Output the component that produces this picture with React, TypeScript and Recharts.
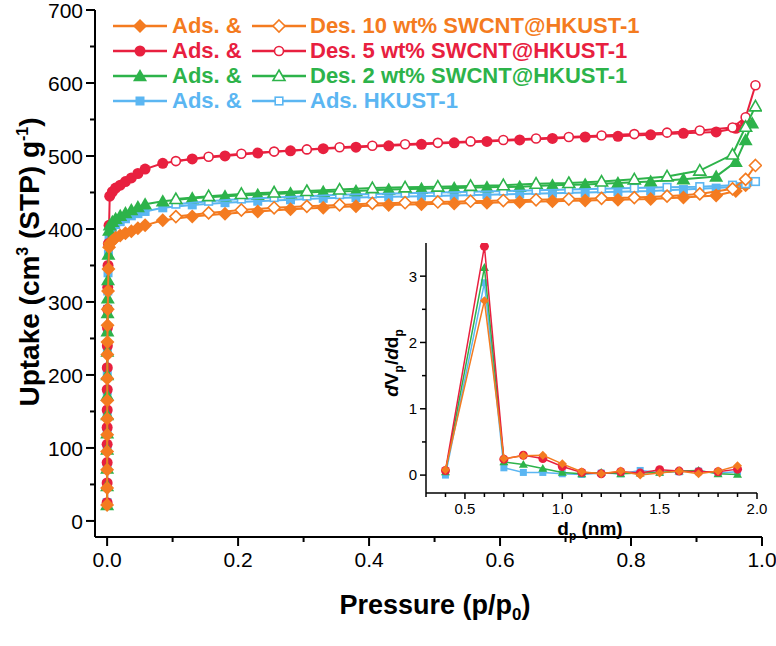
import React from "react";
import { ComposedChart, Scatter, XAxis, YAxis, Legend } from "recharts";

const ORANGE = "#F47B20";
const RED = "#E8203F";
const GREEN = "#2DB34A";
const BLUE = "#5BB6F2";
const FONT = "'Liberation Sans', Arial, sans-serif";

// ---- main isotherm (p/p0 vs uptake) ----
// shared pressure steps
const stackP = [0.00001, 0.00002, 0.00004, 0.00006, 0.00009, 0.00013, 0.00018, 0.00025, 0.00035, 0.0005, 0.0007, 0.001, 0.0014, 0.002, 0.003];
const kneeP = [0.004, 0.008, 0.013, 0.02, 0.028, 0.037, 0.047, 0.058];
const plateauP = [0.085, 0.13, 0.18, 0.23, 0.28, 0.33, 0.38, 0.43, 0.48, 0.53, 0.58, 0.63, 0.68, 0.73, 0.78, 0.83, 0.88, 0.93];
const tailP = [0.96, 0.975];
const greenTailP = [0.96, 0.975, 0.985];
const desP = [0.99, 0.975, 0.955, 0.905, 0.855, 0.805, 0.755, 0.705, 0.655, 0.605, 0.555, 0.505, 0.455, 0.405, 0.355, 0.305, 0.255, 0.205, 0.155, 0.105];

// 10 wt% SWCNT@HKUST-1
const ads10 = [22, 45, 70, 95, 118, 140, 165, 195, 228, 245, 268, 290, 315, 345, 375,
  380, 384, 388, 391, 394, 397, 401, 405,
  412, 417, 421, 424, 427, 429, 431, 433, 434, 435, 436, 437, 438, 439, 440, 441, 443, 446,
  452, 460];
const des10 = [487, 468, 455, 448, 445, 443, 442, 441, 440, 439, 438, 437, 436, 435, 433, 431, 429, 426, 422, 417];

// 5 wt% SWCNT@HKUST-1
const ads5 = [25, 52, 80, 105, 128, 152, 180, 210, 240, 265, 290, 320, 350, 380, 405,
  445, 451, 456, 460, 465, 470, 476, 482,
  490, 496, 500, 504, 507, 510, 512, 514, 516, 518, 520, 522, 524, 526, 527, 529, 531, 533,
  538, 545];
const des5 = [597, 553, 539, 535, 532, 530, 528, 526, 524, 522, 520, 518, 516, 514, 512, 509, 506, 503, 499, 493];

// 2 wt% SWCNT@HKUST-1
const ads2 = [22, 48, 72, 98, 120, 145, 172, 200, 232, 260, 285, 305, 330, 365, 398,
  405, 410, 414, 418, 422, 426, 430, 434,
  438, 442, 445, 447, 449, 451, 452, 454, 455, 456, 457, 458, 460, 461, 463, 465, 468, 472,
  492, 522, 545];
const des2 = [568, 540, 502, 480, 472, 468, 465, 463, 462, 460, 459, 458, 457, 456, 454, 452, 450, 448, 445, 441];

// HKUST-1
const adsH = [25, 50, 75, 100, 122, 148, 178, 205, 235, 262, 290, 315, 340, 365, 390,
  398, 402, 406, 410, 414, 418, 421, 424,
  429, 433, 436, 438, 440, 442, 443, 444, 445, 446, 447, 448, 449, 450, 451, 452, 454, 456,
  458, 461];
const desH = [465, 462, 460, 458, 457, 456, 455, 454, 453, 452, 451, 450, 449, 448, 447, 445, 443, 441, 438, 434];

const mainXTicks = [0, 0.1, 0.2, 0.3, 0.4, 0.5, 0.6, 0.7, 0.8, 0.9, 1.0];
const mainYTicks = [0, 50, 100, 150, 200, 250, 300, 350, 400, 450, 500, 550, 600, 650, 700];

// ---- inset: pore size distribution ----
const poreD = [0.4, 0.6, 0.7, 0.8, 0.9, 1.0, 1.1, 1.2, 1.3, 1.4, 1.5, 1.6, 1.7, 1.8, 1.9];
const psd10 = [0.08, 2.63, 0.25, 0.29, 0.3, 0.17, 0.05, 0.02, 0.06, 0.0, 0.03, 0.06, 0.02, 0.06, 0.14];
const psd5 = [0.07, 3.45, 0.24, 0.3, 0.25, 0.13, 0.04, 0.02, 0.05, 0.03, 0.08, 0.06, 0.05, 0.05, 0.09];
const psd2 = [0.05, 3.13, 0.2, 0.16, 0.1, 0.04, 0.02, 0.04, 0.02, 0.03, 0.04, 0.06, 0.07, 0.02, 0.01];
const psdH = [0.0, 2.9, 0.11, 0.04, 0.04, 0.02, 0.01, 0.03, 0.02, 0.07, 0.04, 0.05, 0.06, 0.03, 0.05];

const insetXTicks = [0.3, 0.4, 0.5, 0.6, 0.7, 0.8, 0.9, 1.0, 1.1, 1.2, 1.3, 1.4, 1.5, 1.6, 1.7, 1.8, 1.9, 2.0];
const insetYTicks = [0, 0.5, 1, 1.5, 2, 2.5, 3];

const legendAds = ["Ads. &", "Ads. &", "Ads. &", "Ads. &"];
const legendDes = ["Des. 10 wt% SWCNT@HKUST-1", "Des. 5 wt% SWCNT@HKUST-1", "Des. 2 wt% SWCNT@HKUST-1", "Ads. HKUST-1"];

const zip = (xs: number[], ys: number[]) => ys.map((v, i) => ({ p: xs[i], v }));

const ads10Data = zip([...stackP, ...kneeP, ...plateauP, ...tailP], ads10);
const ads5Data = zip([...stackP, ...kneeP, ...plateauP, ...tailP], ads5);
const ads2Data = zip([...stackP, ...kneeP, ...plateauP, ...greenTailP], ads2);
const adsHData = zip([...stackP, ...kneeP, ...plateauP, ...tailP], adsH);

type Kind = "diamond" | "circle" | "triangle" | "square";

const Mark = ({ kind, color, open, r, cx, cy }: any) => {
  if (cx == null || cy == null) return null;
  const fill = open ? "#fff" : color;
  const sw = open ? 1.6 : 0;
  if (kind === "circle") return <circle cx={cx} cy={cy} r={r} fill={fill} stroke={color} strokeWidth={sw} />;
  if (kind === "square") return <rect x={cx - r} y={cy - r} width={2 * r} height={2 * r} fill={fill} stroke={color} strokeWidth={sw} />;
  if (kind === "diamond")
    return <polygon points={`${cx},${cy - r} ${cx + r},${cy} ${cx},${cy + r} ${cx - r},${cy}`} fill={fill} stroke={color} strokeWidth={sw} />;
  return <polygon points={`${cx},${cy - r} ${cx + r},${cy + r * 0.75} ${cx - r},${cy + r * 0.75}`} fill={fill} stroke={color} strokeWidth={sw} />;
};

const shape = (kind: Kind, color: string, open: boolean, r: number) => (props: any) => (
  <Mark kind={kind} color={color} open={open} r={r} cx={props.cx} cy={props.cy} />
);

const series = [
  { kind: "square" as Kind, color: BLUE, ads: adsHData, des: desH },
  { kind: "circle" as Kind, color: RED, ads: ads5Data, des: des5 },
  { kind: "triangle" as Kind, color: GREEN, ads: ads2Data, des: des2 },
  { kind: "diamond" as Kind, color: ORANGE, ads: ads10Data, des: des10 },
];
const fillR: Record<Kind, number> = { diamond: 7, circle: 5.5, triangle: 7, square: 4.5 };
const openR: Record<Kind, number> = { diamond: 6, circle: 4.5, triangle: 6, square: 3.8 };
const legendRows = [
  { kind: "diamond" as Kind, color: ORANGE },
  { kind: "circle" as Kind, color: RED },
  { kind: "triangle" as Kind, color: GREEN },
  { kind: "square" as Kind, color: BLUE },
];

const MainXTick = (props: any) => {
  const { x, y, payload } = props;
  const v = payload.value;
  const major = Math.round(v * 10) % 2 === 0;
  return (
    <g>
      <line x1={x} y1={y} x2={x} y2={y + (major ? 9 : 5)} stroke="#000" strokeWidth={2} />
      {major && (
        <text x={x} y={y + 30} textAnchor="middle" fontSize={21} fontFamily={FONT} fill="#000">
          {v.toFixed(1)}
        </text>
      )}
    </g>
  );
};

const MainYTick = (props: any) => {
  const { x, y, payload } = props;
  const v = payload.value;
  const major = v % 100 === 0;
  return (
    <g>
      <line x1={x} y1={y} x2={x - (major ? 9 : 5)} y2={y} stroke="#000" strokeWidth={2} />
      {major && (
        <text x={x - 12} y={y} dy="0.36em" textAnchor="end" fontSize={21} fontFamily={FONT} fill="#000">
          {v}
        </text>
      )}
    </g>
  );
};

const InsetXTick = (props: any) => {
  const { x, y, payload } = props;
  const v = payload.value;
  const major = Math.round(v * 10) % 5 === 0;
  return (
    <g>
      <line x1={x} y1={y} x2={x} y2={y + (major ? 6 : 4)} stroke="#000" strokeWidth={1.5} />
      {major && (
        <text x={x} y={y + 21} textAnchor="middle" fontSize={15} fontFamily={FONT} fill="#000">
          {v.toFixed(1)}
        </text>
      )}
    </g>
  );
};

const InsetYTick = (props: any) => {
  const { x, y, payload } = props;
  const v = payload.value;
  const major = Number.isInteger(v);
  return (
    <g>
      <line x1={x} y1={y} x2={x - (major ? 6 : 4)} y2={y} stroke="#000" strokeWidth={1.5} />
      {major && (
        <text x={x - 9} y={y} dy="0.36em" textAnchor="end" fontSize={15} fontFamily={FONT} fill="#000">
          {v}
        </text>
      )}
    </g>
  );
};

const MainXTitle = () => (
  <text x={435} y={614} textAnchor="middle" fontSize={27} fontWeight="bold" fontFamily={FONT} fill="#000">
    Pressure (p/p<tspan fontSize={17} dy={6}>0</tspan>
    <tspan dy={-6}>)</tspan>
  </text>
);

const MainYTitle = () => (
  <text transform="translate(39,262) rotate(-90)" textAnchor="middle" fontSize={28} fontWeight="bold" fontFamily={FONT} fill="#000">
    Uptake (cm<tspan fontSize={16} dy={-11}>3</tspan>
    <tspan dy={11}> (STP) g</tspan>
    <tspan fontSize={16} dy={-11}>-1</tspan>
    <tspan dy={11}>)</tspan>
  </text>
);

const InsetXTitle = () => (
  <text x={260} y={300} textAnchor="middle" fontSize={19} fontWeight="bold" fontFamily={FONT} fill="#000">
    d<tspan fontSize={12} dy={5}>p</tspan>
    <tspan dy={-5}> (nm)</tspan>
  </text>
);

const InsetYTitle = () => (
  <text transform="translate(68,128) rotate(-90)" textAnchor="middle" fontSize={19} fontWeight="bold" fontFamily={FONT} fill="#000">
    <tspan fontStyle="italic">d</tspan>V<tspan fontSize={12} dy={5}>p</tspan>
    <tspan dy={-5}>/</tspan>
    <tspan fontStyle="italic">d</tspan>d<tspan fontSize={12} dy={5}>p</tspan>
  </text>
);

const LegendIcon = ({ kind, color, open }: { kind: Kind; color: string; open: boolean }) => (
  <svg width={54} height={20} style={{ position: "absolute", top: 0 }}>
    <line x1={0} y1={10} x2={54} y2={10} stroke={color} strokeWidth={2.5} />
    <Mark kind={kind} color={color} open={open} r={open ? openR[kind] : fillR[kind]} cx={27} cy={10} />
  </svg>
);

const LegendContent = () => (
  <div style={{ position: "relative", width: 620, height: 104, fontFamily: FONT }}>
    {legendRows.map((row, i) => (
      <div key={i} style={{ position: "absolute", left: 0, top: i * 25, height: 20, width: 620 }}>
        <div style={{ position: "absolute", left: 0 }}>
          <LegendIcon kind={row.kind} color={row.color} open={false} />
        </div>
        <span style={{ position: "absolute", left: 59, top: -3, fontSize: 22, fontWeight: "bold", color: row.color, whiteSpace: "nowrap" }}>
          {legendAds[i]}
        </span>
        <div style={{ position: "absolute", left: 139 }}>
          <LegendIcon kind={row.kind} color={row.color} open={true} />
        </div>
        <span style={{ position: "absolute", left: 197, top: -3, fontSize: 22, fontWeight: "bold", color: row.color, whiteSpace: "nowrap" }}>
          {legendDes[i]}
        </span>
      </div>
    ))}
  </div>
);

export default function App() {
  return (
    <div style={{ position: "absolute", left: 0, top: 0, width: 776, height: 646, background: "#fff", fontFamily: FONT }}>
      <ComposedChart width={776} height={646} margin={{ top: 10, right: 14, bottom: 0, left: 0 }}>
        <XAxis
          type="number"
          dataKey="p"
          domain={[-0.0185, 1.0]}
          allowDataOverflow
          ticks={mainXTicks}
          interval={0}
          height={109}
          tickSize={0}
          tickMargin={0}
          tickLine={false}
          tick={<MainXTick />}
          axisLine={{ stroke: "#000", strokeWidth: 2 }}
          label={<MainXTitle />}
        />
        <YAxis
          type="number"
          dataKey="v"
          domain={[-22, 700]}
          allowDataOverflow
          ticks={mainYTicks}
          interval={0}
          width={95}
          tickSize={0}
          tickMargin={0}
          tickLine={false}
          tick={<MainYTick />}
          axisLine={{ stroke: "#000", strokeWidth: 2 }}
          label={<MainYTitle />}
        />
        <Legend
          layout="horizontal"
          verticalAlign="middle"
          align="center"
          content={<LegendContent />}
          wrapperStyle={{ position: "absolute", left: 113, top: 16, width: 620, height: 104 }}
        />
        {series.map((s) => (
          <Scatter
            key={s.color + "a"}
            data={s.ads}
            isAnimationActive={false}
            line={{ stroke: s.color, strokeWidth: 2 }}
            shape={shape(s.kind, s.color, false, fillR[s.kind])}
          />
        ))}
        {series.map((s) => (
          <Scatter
            key={s.color + "d"}
            data={zip(desP, s.des)}
            isAnimationActive={false}
            line={{ stroke: s.color, strokeWidth: 2 }}
            shape={shape(s.kind, s.color, true, openR[s.kind])}
          />
        ))}
      </ComposedChart>

      <div style={{ position: "absolute", left: 330, top: 235, width: 440, height: 320 }}>
        <ComposedChart width={440} height={320} margin={{ top: 8, right: 13, bottom: 0, left: 0 }}>
          <XAxis
            type="number"
            dataKey="d"
            domain={[0.3, 2.0]}
            allowDataOverflow
            ticks={insetXTicks}
            interval={0}
            height={62}
            tickSize={0}
            tickMargin={0}
            tickLine={false}
            tick={<InsetXTick />}
            axisLine={{ stroke: "#000", strokeWidth: 1.5 }}
            label={<InsetXTitle />}
          />
          <YAxis
            type="number"
            dataKey="y"
            domain={[-0.27, 3.5]}
            allowDataOverflow
            ticks={insetYTicks}
            interval={0}
            width={96}
            tickSize={0}
            tickMargin={0}
            tickLine={false}
            tick={<InsetYTick />}
            axisLine={{ stroke: "#000", strokeWidth: 1.5 }}
            label={<InsetYTitle />}
          />
          {[
            { kind: "square" as Kind, color: BLUE, vals: psdH },
            { kind: "triangle" as Kind, color: GREEN, vals: psd2 },
            { kind: "circle" as Kind, color: RED, vals: psd5 },
            { kind: "diamond" as Kind, color: ORANGE, vals: psd10 },
          ].map((s) => (
            <Scatter
              key={s.color}
              data={s.vals.map((y, i) => ({ d: poreD[i], y }))}
              isAnimationActive={false}
              line={{ stroke: s.color, strokeWidth: 1.5 }}
              shape={shape(s.kind, s.color, false, s.kind === "square" ? 3.5 : 4.5)}
            />
          ))}
        </ComposedChart>
      </div>
    </div>
  );
}
